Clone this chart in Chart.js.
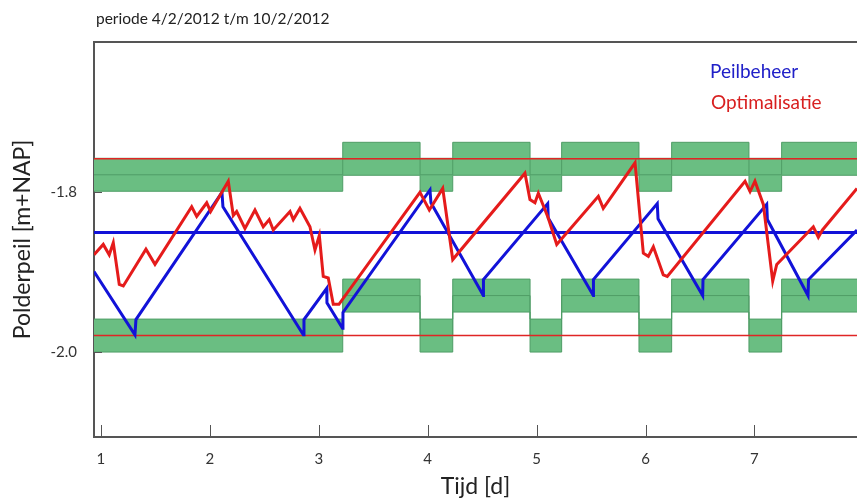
<!DOCTYPE html>
<html lang="nl">
<head>
    <meta charset="utf-8" />
    <title>Polderpeil - Peilbeheer vs Optimalisatie</title>
    <script src="https://cdn.jsdelivr.net/npm/chart.js"></script>
    <style>
        body { margin: 0; background: #fff; }
    </style>
</head>
<body>
    <canvas id="peilChart" width="857" height="500"></canvas>

    <script>
        // Peilbeheer (blauw): tijd [d] en peil [m+NAP]
        const blueTime = [0.936, 1.312, 1.321, 2.111, 2.120, 2.858, 2.864, 3.073, 3.075, 3.218, 3.222,
            4.021, 4.030, 4.511, 4.512, 5.102, 5.107, 5.521, 5.522, 6.108, 6.115, 6.525, 6.528,
            7.113, 7.119, 7.492, 7.497, 7.942];
        const blueLevel = [-1.899, -1.978, -1.959, -1.800, -1.818, -1.978, -1.959, -1.920, -1.938, -1.970, -1.950,
            -1.797, -1.813, -1.929, -1.909, -1.814, -1.832, -1.929, -1.909, -1.814, -1.833, -1.929, -1.909,
            -1.815, -1.834, -1.929, -1.909, -1.847];

        // Optimalisatie (rood)
        const redTime = [0.936, 1.021, 1.076, 1.113, 1.168, 1.205, 1.413, 1.496, 1.833, 1.879, 1.971, 2.007,
            2.169, 2.215, 2.246, 2.322, 2.414, 2.490, 2.545, 2.582, 2.736, 2.766, 2.827, 2.919, 2.965,
            3.005, 3.041, 3.087, 3.133, 3.185, 3.929, 4.015, 4.138, 4.230, 4.893, 4.939, 4.985, 5.016,
            5.107, 5.185, 5.567, 5.612, 5.904, 5.980, 6.026, 6.072, 6.163, 6.200, 6.914, 6.960, 7.005,
            7.082, 7.168, 7.205, 7.541, 7.587, 7.625, 7.942];
        const redLevel = [-1.878, -1.865, -1.878, -1.863, -1.915, -1.917, -1.871, -1.890, -1.818, -1.830, -1.813, -1.824,
            -1.786, -1.829, -1.824, -1.845, -1.822, -1.843, -1.834, -1.847, -1.824, -1.834, -1.820, -1.843, -1.872,
            -1.854, -1.905, -1.907, -1.940, -1.940, -1.800, -1.822, -1.795, -1.884, -1.776, -1.809, -1.813, -1.801,
            -1.832, -1.865, -1.805, -1.820, -1.763, -1.876, -1.880, -1.868, -1.903, -1.905, -1.786, -1.799, -1.786,
            -1.815, -1.911, -1.890, -1.843, -1.856, -1.847, -1.795];

        // streefpeil en grenzen
        const targetLevel = -1.85;
        const limitLevels = [-1.758, -1.979];

        // groene banden: begintijd per blok en middenpeil
        const bandTimes = [0.936, 3.22, 3.93, 4.23, 4.94, 5.23, 5.94, 6.24, 6.95, 7.25, 7.942];
        const upperMid = [-1.778, -1.758, -1.778, -1.758, -1.778, -1.758, -1.778, -1.758, -1.778, -1.758];
        const lowerMid = [-1.979, -1.929, -1.979, -1.929, -1.979, -1.929, -1.979, -1.929, -1.979, -1.929];
        const bandHalf = 0.0206;

        const xTicks = [1, 2, 3, 4, 5, 6, 7];
        const yTicks = [-2.0, -1.8];
        const xRange = [0.936, 7.942];
        const yRange = [-2.1058, -1.612];

        const FONT = 'Lato, "Open Sans", sans-serif';
        const GREEN = '#6abe82';
        const GREEN_EDGE = '#4f9d66';

        function toPoints(times, levels) {
            return times.map((t, i) => ({ x: t, y: levels[i] }));
        }

        function stepPoints(mids, offset) {
            const pts = mids.map((m, i) => ({ x: bandTimes[i], y: m + offset }));
            pts.push({ x: bandTimes[bandTimes.length - 1], y: mids[mids.length - 1] + offset });
            return pts;
        }

        function flatLine(level) {
            return [{ x: xRange[0], y: level }, { x: xRange[1], y: level }];
        }

        function bandSets(mids) {
            const base = { pointRadius: 0, borderWidth: 1, borderColor: GREEN_EDGE, stepped: true, tension: 0 };
            return [
                { ...base, data: stepPoints(mids, bandHalf), fill: '+2', backgroundColor: GREEN, order: 9 },
                { ...base, data: stepPoints(mids, 0), fill: false, order: 8 },
                { ...base, data: stepPoints(mids, -bandHalf), fill: false, order: 8 }
            ];
        }

        const decorPlugin = {
            id: 'decor',
            afterDraw(chart) {
                const { ctx, chartArea: a, scales: { x, y } } = chart;
                ctx.save();
                ctx.strokeStyle = '#555';
                ctx.lineWidth = 1;
                ctx.beginPath();
                xTicks.forEach(v => {
                    const px = Math.round(x.getPixelForValue(v)) + 0.5;
                    ctx.moveTo(px, a.bottom);
                    ctx.lineTo(px, a.bottom - 12);
                });
                yTicks.forEach(v => {
                    const py = Math.round(y.getPixelForValue(v)) + 0.5;
                    ctx.moveTo(a.left, py);
                    ctx.lineTo(a.left + 8, py);
                });
                ctx.stroke();

                // bovenrand
                ctx.lineWidth = 2;
                ctx.beginPath();
                ctx.moveTo(a.left - 1, a.top);
                ctx.lineTo(a.right, a.top);
                ctx.stroke();

                ctx.textBaseline = 'alphabetic';
                ctx.textAlign = 'left';
                ctx.fillStyle = '#222';
                ctx.font = '15.5px ' + FONT;
                ctx.fillText('periode 4/2/2012 t/m 10/2/2012', 96, 24);

                ctx.font = '19px ' + FONT;
                ctx.fillStyle = '#2020c8';
                ctx.fillText('Peilbeheer', 710, 78);
                ctx.fillStyle = '#d82020';
                ctx.fillText('Optimalisatie', 711, 109);
                ctx.restore();
            }
        };

        const ctx = document.getElementById('peilChart').getContext('2d');
        new Chart(ctx, {
            type: 'line',
            data: {
                datasets: [
                    { label: 'Peilbeheer', data: toPoints(blueTime, blueLevel), borderColor: '#1212d8', borderWidth: 3, pointRadius: 0, tension: 0, fill: false, order: 1 },
                    { label: 'Optimalisatie', data: toPoints(redTime, redLevel), borderColor: '#e51b1b', borderWidth: 3, pointRadius: 0, tension: 0, fill: false, order: 0 },
                    { data: flatLine(targetLevel), borderColor: '#1212d8', borderWidth: 3, pointRadius: 0, fill: false, order: 3 },
                    { data: flatLine(limitLevels[0]), borderColor: '#e02525', borderWidth: 1.5, pointRadius: 0, fill: false, order: 4 },
                    { data: flatLine(limitLevels[1]), borderColor: '#e02525', borderWidth: 1.5, pointRadius: 0, fill: false, order: 4 },
                    ...bandSets(upperMid),
                    ...bandSets(lowerMid)
                ]
            },
            options: {
                responsive: false,
                animation: false,
                parsing: false,
                layout: { padding: { top: 42, left: 0, right: 0, bottom: 0 } },
                plugins: { legend: { display: false }, title: { display: false }, tooltip: { enabled: false } },
                scales: {
                    x: {
                        type: 'linear',
                        min: xRange[0],
                        max: xRange[1],
                        afterBuildTicks: s => { s.ticks = xTicks.map(v => ({ value: v })); },
                        afterFit: s => { s.height = 63; },
                        grid: { display: false, drawTicks: false },
                        border: { color: '#555', width: 2 },
                        ticks: { padding: 13, color: '#333', font: { family: FONT, size: 15 }, callback: v => String(v), maxRotation: 0 },
                        title: { display: true, text: 'Tijd [d]', color: '#222', font: { family: FONT, size: 23 }, padding: { top: 0, bottom: 0 } }
                    },
                    y: {
                        type: 'linear',
                        min: yRange[0],
                        max: yRange[1],
                        afterBuildTicks: s => { s.ticks = yTicks.map(v => ({ value: v })); },
                        afterFit: s => { s.width = 94; },
                        grid: { display: false, drawTicks: false },
                        border: { color: '#555', width: 2 },
                        ticks: { padding: 17, color: '#333', font: { family: FONT, size: 15 }, callback: v => v.toFixed(1) },
                        title: { display: true, text: 'Polderpeil [m+NAP]', color: '#222', font: { family: FONT, size: 23 }, padding: { top: 9, bottom: 0 } }
                    }
                }
            },
            plugins: [decorPlugin]
        });
    </script>
</body>
</html>
